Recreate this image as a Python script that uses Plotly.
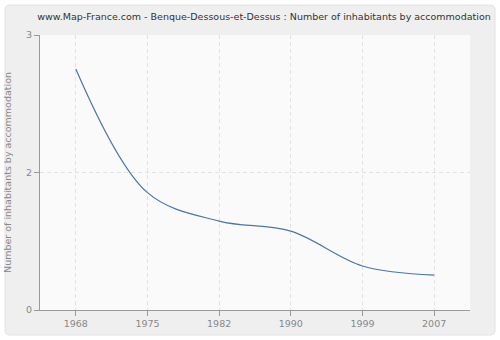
import plotly.graph_objects as go

years = ["1968", "1975", "1982", "1990", "1999", "2007"]
values = [2.63, 1.28, 0.97, 0.86, 0.48, 0.38]
y_tickvals = [0, 1.5, 3]
y_ticktext = ["0", "2", "3"]

title = "www.Map-France.com - Benque-Dessous-et-Dessus : Number of inhabitants by accommodation"

fig = go.Figure()
fig.add_trace(go.Scatter(
    x=list(range(len(years))), y=values, mode="lines",
    line=dict(color="#4a76a8", width=1.2, shape="spline", smoothing=1.0),
    hoverinfo="skip", showlegend=False,
))

L, R, T, B = 40, 30, 35, 30
W, H = 500, 340
pw, ph = W - L - R, H - T - B
def px(x): return (x - L) / pw
def py(y): return (H - B - y) / ph

x0, x1, y0, y1 = px(5), px(495), py(335), py(5)
rx, ry = 5 / pw, 5 / ph
path = (f"M {x0+rx},{y1} L {x1-rx},{y1} Q {x1},{y1} {x1},{y1-ry} "
        f"L {x1},{y0+ry} Q {x1},{y0} {x1-rx},{y0} L {x0+rx},{y0} "
        f"Q {x0},{y0} {x0},{y0+ry} L {x0},{y1-ry} Q {x0},{y1} {x0+rx},{y1} Z")

fig.update_layout(
    width=W, height=H,
    margin=dict(l=L, r=R, t=T, b=B, autoexpand=False),
    paper_bgcolor="#ffffff",
    plot_bgcolor="#f9f9f9",
    font=dict(family="DejaVu Sans", size=9, color="#888888"),
    title=dict(text=title, x=0.528, xanchor="center", y=0.95, yanchor="middle",
               font=dict(size=9.5, color="#333333")),
    shapes=[
        dict(type="path", path=path, xref="paper", yref="paper",
             fillcolor="#efefef", line=dict(color="#e2e2e2", width=1), layer="below"),
        dict(type="rect", x0=0, x1=1, y0=0, y1=1, xref="paper", yref="paper",
             fillcolor="#fafafa", line=dict(width=0), layer="below"),
    ],
    xaxis=dict(
        range=[-0.5, 5.5], tickmode="array", tickvals=list(range(len(years))), ticktext=years,
        showgrid=True, gridcolor="#e3e3e3", griddash="4px,3px", gridwidth=1,
        showline=True, linecolor="#999999", linewidth=1,
        ticks="outside", ticklen=5, tickcolor="#999999", zeroline=False, fixedrange=True,
        automargin=False, tickfont=dict(size=9.5),
    ),
    yaxis=dict(
        range=[0, 3], tickmode="array", tickvals=y_tickvals, ticktext=y_ticktext,
        showgrid=True, gridcolor="#e3e3e3", griddash="4px,3px", gridwidth=1,
        showline=True, linecolor="#999999", linewidth=1,
        ticks="outside", ticklen=5, tickcolor="#999999", zeroline=False,
        title=dict(text="Number of inhabitants by accommodation", standoff=12,
                   font=dict(size=9.5, color="#888888")),
        fixedrange=True, automargin=False, tickfont=dict(size=9.5),
    ),
)

fig.write_html("out.html", config={"displayModeBar": False})
